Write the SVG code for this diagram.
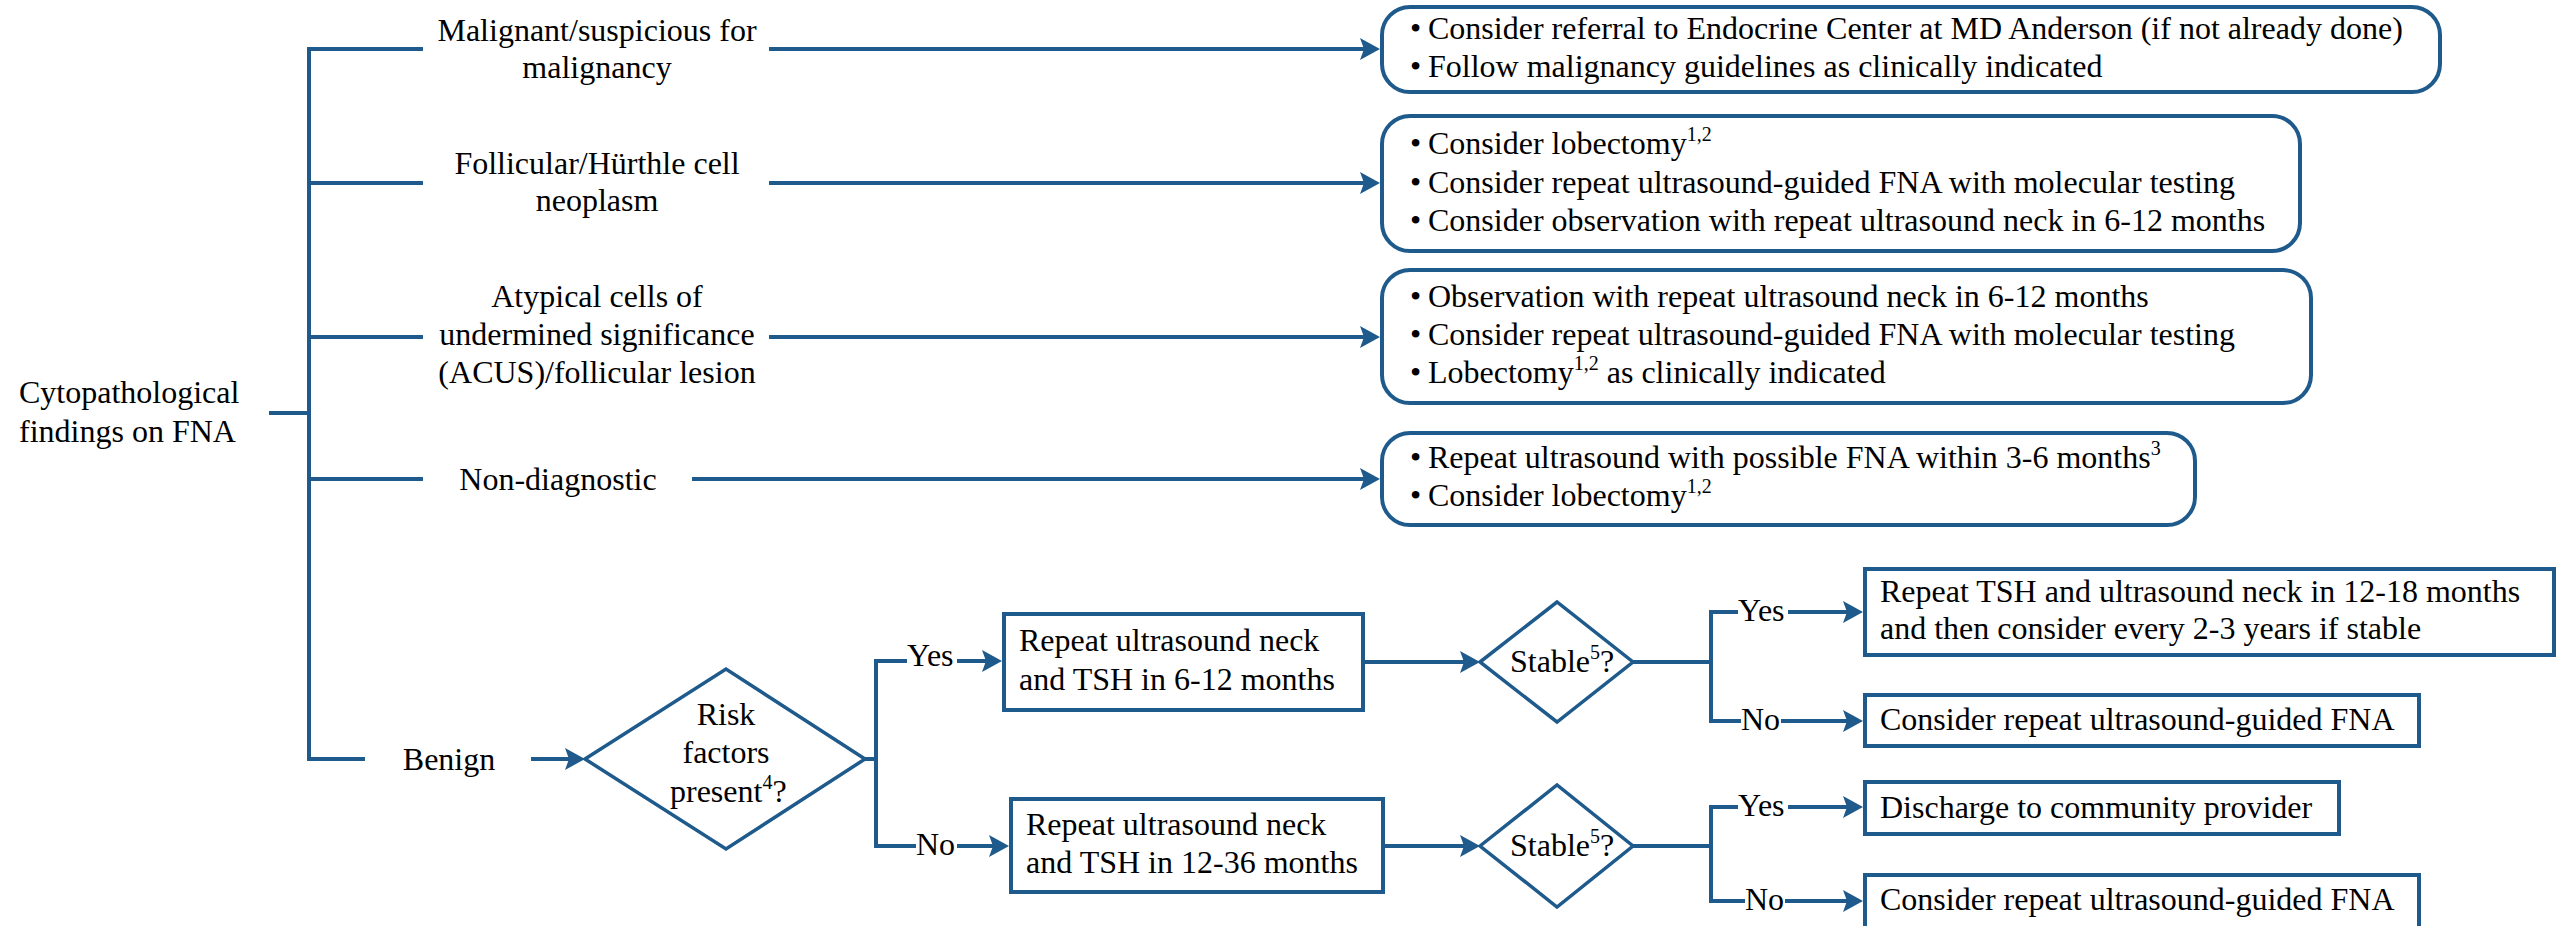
<svg xmlns="http://www.w3.org/2000/svg" width="2561" height="926" viewBox="0 0 2561 926">
<defs>
<style>
text{font-family:"Liberation Serif","Times New Roman",serif;font-size:32px;fill:#000}
.c{text-anchor:middle}
.sup{font-size:20px}
.ln{fill:none;stroke:#1e5a8b;stroke-width:4}
.box{fill:#fff;stroke:#1e5a8b;stroke-width:4}
.dia{fill:#fff;stroke:#1e5a8b;stroke-width:3.5;stroke-linejoin:miter}
</style>
<marker id="ah" markerUnits="userSpaceOnUse" markerWidth="20" markerHeight="22" refX="12" refY="11" orient="auto">
<path d="M0,0 L20,11 L0,22 L4,11 Z" fill="#1e5a8b"/>
</marker>
</defs>
<rect width="2561" height="926" fill="#fff"/>
<g id="connectors">
<path class="ln" d="M423,49 H309 V759 H365"/>
<path class="ln" d="M309,183 H423"/>
<path class="ln" d="M309,337 H423"/>
<path class="ln" d="M309,479 H423"/>
<path class="ln" d="M269,413 H309"/>
<path class="ln" d="M769,49 H1372" marker-end="url(#ah)"/>
<path class="ln" d="M769,183 H1372" marker-end="url(#ah)"/>
<path class="ln" d="M769,337 H1372" marker-end="url(#ah)"/>
<path class="ln" d="M692,479 H1372" marker-end="url(#ah)"/>
<path class="ln" d="M531,759 H577" marker-end="url(#ah)"/>
<path class="ln" d="M865,759 H876"/>
<path class="ln" d="M907,661 H876 V846 H916"/>
<path class="ln" d="M957,661 H994" marker-end="url(#ah)"/>
<path class="ln" d="M957,846 H1001" marker-end="url(#ah)"/>
<path class="ln" d="M1364,662 H1472" marker-end="url(#ah)"/>
<path class="ln" d="M1385,846 H1472" marker-end="url(#ah)"/>
<path class="ln" d="M1633,662 H1711"/>
<path class="ln" d="M1738,612 H1711 V721 H1741"/>
<path class="ln" d="M1788,612 H1855" marker-end="url(#ah)"/>
<path class="ln" d="M1781,721 H1855" marker-end="url(#ah)"/>
<path class="ln" d="M1633,846 H1711"/>
<path class="ln" d="M1738,807 H1711 V901 H1745"/>
<path class="ln" d="M1788,807 H1855" marker-end="url(#ah)"/>
<path class="ln" d="M1785,901 H1855" marker-end="url(#ah)"/>
<text x="907" y="666">Yes</text>
<text x="916" y="855">No</text>
<text x="1738" y="621">Yes</text>
<text x="1741" y="730">No</text>
<text x="1738" y="816">Yes</text>
<text x="1745" y="910">No</text>
</g>
<g id="root">
<text x="19" y="403">Cytopathological</text>
<text x="19" y="442">findings on FNA</text>
</g>
<g id="malignant">
<text class="c" x="597" y="41">Malignant/suspicious for</text>
<text class="c" x="597" y="78">malignancy</text>
</g>
<g id="follicular">
<text class="c" x="597" y="174">Follicular/Hürthle cell</text>
<text class="c" x="597" y="211">neoplasm</text>
</g>
<g id="atypical">
<text class="c" x="597" y="307">Atypical cells of</text>
<text class="c" x="597" y="345">undermined significance</text>
<text class="c" x="597" y="383">(ACUS)/follicular lesion</text>
</g>
<g id="nondiagnostic">
<text class="c" x="558" y="490">Non-diagnostic</text>
</g>
<g id="benign">
<text class="c" x="449" y="770">Benign</text>
</g>
<g id="box-malignant">
<rect class="box" x="1382" y="7" width="1058" height="85" rx="28"/>
<text y="39"><tspan x="1410">•</tspan><tspan x="1428">Consider referral to Endocrine Center at MD Anderson (if not already done)</tspan></text>
<text y="77"><tspan x="1410">•</tspan><tspan x="1428">Follow malignancy guidelines as clinically indicated</tspan></text>
</g>
<g id="box-follicular">
<rect class="box" x="1382" y="116" width="918" height="135" rx="28"/>
<text y="154"><tspan x="1410">•</tspan><tspan x="1428">Consider lobectomy</tspan><tspan class="sup" dy="-13">1,2</tspan></text>
<text y="193"><tspan x="1410">•</tspan><tspan x="1428">Consider repeat ultrasound-guided FNA with molecular testing</tspan></text>
<text y="231"><tspan x="1410">•</tspan><tspan x="1428">Consider observation with repeat ultrasound neck in 6-12 months</tspan></text>
</g>
<g id="box-atypical">
<rect class="box" x="1382" y="270" width="929" height="133" rx="28"/>
<text y="307"><tspan x="1410">•</tspan><tspan x="1428">Observation with repeat ultrasound neck in 6-12 months</tspan></text>
<text y="345"><tspan x="1410">•</tspan><tspan x="1428">Consider repeat ultrasound-guided FNA with molecular testing</tspan></text>
<text y="383"><tspan x="1410">•</tspan><tspan x="1428">Lobectomy</tspan><tspan class="sup" dy="-13">1,2</tspan><tspan dy="13"> as clinically indicated</tspan></text>
</g>
<g id="box-nondiagnostic">
<rect class="box" x="1382" y="433" width="813" height="92" rx="28"/>
<text y="468"><tspan x="1410">•</tspan><tspan x="1428">Repeat ultrasound with possible FNA within 3-6 months</tspan><tspan class="sup" dy="-13">3</tspan></text>
<text y="506"><tspan x="1410">•</tspan><tspan x="1428">Consider lobectomy</tspan><tspan class="sup" dy="-13">1,2</tspan></text>
</g>
<g id="risk-decision">
<polygon class="dia" points="585,759 726,669 865,759 726,849"/>
<text class="c" x="726" y="725">Risk</text>
<text class="c" x="726" y="763">factors</text>
<text x="670" y="802">present<tspan class="sup" dy="-13">4</tspan><tspan dy="13">?</tspan></text>
</g>
<g id="repeat-6-12">
<rect class="box" x="1004" y="614" width="359" height="96"/>
<text x="1019" y="651">Repeat ultrasound neck</text>
<text x="1019" y="690">and TSH in 6-12 months</text>
</g>
<g id="repeat-12-36">
<rect class="box" x="1011" y="799" width="372" height="93"/>
<text x="1026" y="835">Repeat ultrasound neck</text>
<text x="1026" y="873">and TSH in 12-36 months</text>
</g>
<g id="stable-1">
<polygon class="dia" points="1480,662 1557,602 1633,662 1557,722"/>
<text x="1510" y="672">Stable<tspan class="sup" dy="-13">5</tspan><tspan dy="13">?</tspan></text>
</g>
<g id="stable-2">
<polygon class="dia" points="1480,846 1557,785 1633,846 1557,907"/>
<text x="1510" y="856">Stable<tspan class="sup" dy="-13">5</tspan><tspan dy="13">?</tspan></text>
</g>
<g id="repeat-tsh">
<rect class="box" x="1865" y="569" width="689" height="86"/>
<text x="1880" y="602">Repeat TSH and ultrasound neck in 12-18 months</text>
<text x="1880" y="639">and then consider every 2-3 years if stable</text>
</g>
<g id="repeat-fna-1">
<rect class="box" x="1865" y="695" width="554" height="51"/>
<text x="1880" y="730">Consider repeat ultrasound-guided FNA</text>
</g>
<g id="discharge">
<rect class="box" x="1865" y="782" width="474" height="52"/>
<text x="1880" y="818">Discharge to community provider</text>
</g>
<g id="repeat-fna-2">
<rect class="box" x="1865" y="875" width="554" height="60"/>
<text x="1880" y="910">Consider repeat ultrasound-guided FNA</text>
</g>
</svg>
